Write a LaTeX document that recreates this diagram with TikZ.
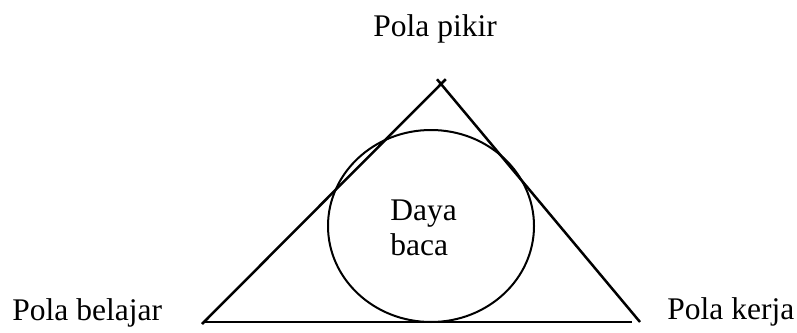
\documentclass[tikz,border=0pt]{standalone}
\usepackage{fontspec}
\setmainfont{Liberation Serif}
\usetikzlibrary{positioning,shapes.geometric,calc}

\begin{document}
\begin{tikzpicture}[x=0.5pt,y=-0.5pt,
  lbl/.style={inner sep=0pt, anchor=base west, font=\fontsize{15.75}{17.5}\selectfont},
  edge/.style={line width=1.25pt},
  ring/.style={ellipse, draw, line width=1pt, minimum width=103pt, minimum height=96pt, inner sep=0pt}
]
  \useasboundingbox (0,0) rectangle (797,332);

  % corners of the triangle
  \coordinate (top) at (441,84);
  \coordinate (left) at (202,324);
  \coordinate (right) at (640,322);
  \coordinate (bl) at (205,322);
  \coordinate (br) at (632,322);

  \node[ring] (circ) at (431,226) {};

  \draw[edge] ($(top)!-0.02!(left)$) -- (left);
  \draw[edge] ($(top)!-0.02!(right)$) -- (right);
  \draw[edge] (bl) -- (br);

  \node[lbl] (pikir) at (373,36.5) {Pola pikir};
  \node[lbl] (belajar) at (12,320.5) {Pola belajar};
  \node[lbl] (kerja) at (667,319) {Pola kerja};
  \node[lbl, align=left] (baca) at (390,255) {Daya\\baca};
\end{tikzpicture}
\end{document}
